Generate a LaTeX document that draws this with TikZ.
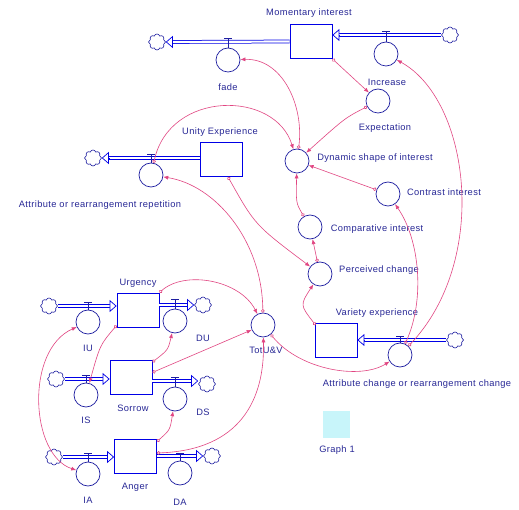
\documentclass[tikz,border=0pt]{standalone}
\usepackage{fontspec}
\setmainfont{Liberation Sans}[LetterSpace=4]
\usetikzlibrary{arrows.meta,shapes.symbols,calc}
\definecolor{cblue}{RGB}{0,0,230}
\definecolor{cnavy}{RGB}{30,30,160}
\definecolor{ctext}{RGB}{40,40,150}
\definecolor{cpink}{RGB}{225,70,130}
\definecolor{cgraph}{RGB}{200,245,250}
\newcommand\flowpipe[2]{\draw[pipe] (#1) -- (#2); \draw[piptip] ($(#2)!7pt!(#1)$) -- (#2);}
\newcommand\valvemark[2]{\draw[valve] (#1.north) -- (#1.north |- 0,#2) ++(-4,0) -- ++(8,0);}
\begin{document}
\begin{tikzpicture}[x=1pt,y=-1pt,
  stock/.style={draw=cblue, line width=0.8pt, minimum width=42pt, minimum height=34pt, inner sep=0pt, fill=white},
  conv/.style={circle, draw=cnavy, line width=0.7pt, minimum size=24pt, inner sep=0pt, fill=white},
  cloudy/.style={cloud, cloud puffs=8, draw=cnavy, line width=0.6pt, minimum width=17pt, minimum height=16pt, inner sep=0pt, fill=white, aspect=1},
  lbl/.style={text=ctext, font=\fontsize{9.3}{11}\selectfont, inner sep=0pt},
  conn/.style={draw=cpink, line width=0.6pt, {Circle[open,length=3.5pt,width=3.5pt]}-{Latex[length=5pt,width=4pt]}},
  conn2/.style={draw=cpink, line width=0.6pt, {Latex[length=5pt,width=4pt]}-{Latex[length=5pt,width=4pt]}},
  pipe/.style={draw=cblue, double=white, double distance=2.2pt, line width=0.75pt, shorten >=6pt},
  piptip/.style={draw=cblue, line width=0.7pt, -{Triangle[fill=white,length=7pt,width=12pt]}},
  valve/.style={draw=cnavy, line width=0.7pt},
  graphpad/.style={fill=cgraph, minimum size=27pt, inner sep=0pt}
]
\useasboundingbox[fill=white] (0,0) rectangle (519,510);

% stocks
\node[stock] (MI) at (311,41.5) {};
\node[stock] (UE) at (221,159.5) {};
\node[stock] (VE) at (336,340.5) {};
\node[stock] (Urg) at (138,310) {};
\node[stock] (Sor) at (131,377.5) {};
\node[stock] (Ang) at (135.5,456) {};

% clouds
\node[cloudy] (MIo) at (157,42) {};
\node[cloudy] (MIi) at (450,35) {};
\node[cloudy] (UEc) at (93,158) {};
\node[cloudy] (VEc) at (455,340) {};
\node[cloudy] (Uin) at (49,306) {};
\node[cloudy] (Uout) at (203,305) {};
\node[cloudy] (Sin) at (56,379) {};
\node[cloudy] (Sout) at (207,384) {};
\node[cloudy] (Ain) at (54,457) {};
\node[cloudy] (Aout) at (212,456) {};

% pipes
\coordinate (a1) at (MI.west);        \coordinate (a2) at (MIo.east);
\coordinate (b1) at (MIi.west);       \coordinate (b2) at (MI.east |- MIi);
\coordinate (c1) at (UE.west |- UEc); \coordinate (c2) at (UEc.east);
\coordinate (d1) at (VEc.west);       \coordinate (d2) at (VE.east |- VEc);
\coordinate (e1) at (Uin.east);       \coordinate (e2) at (Urg.west |- Uin);
\coordinate (f1) at (Urg.east |- Uout); \coordinate (f2) at (Uout.west);
\coordinate (g1) at (Sin.east);       \coordinate (g2) at (Sor.west |- Sin);
\coordinate (h1) at (Sor.east |- 0,381); \coordinate (h2) at (Sout.west |- 0,381);
\coordinate (i1) at (Ain.east);       \coordinate (i2) at (Ang.west |- Ain);
\coordinate (j1) at (Ang.east |- Aout); \coordinate (j2) at (Aout.west);
\flowpipe{a1}{a2}
\flowpipe{b1}{b2}
\flowpipe{c1}{c2}
\flowpipe{d1}{d2}
\flowpipe{e1}{e2}
\flowpipe{f1}{f2}
\flowpipe{g1}{g2}
\flowpipe{h1}{h2}
\flowpipe{i1}{i2}
\flowpipe{j1}{j2}

% flow valves
\node[conv] (fade) at (228,60) {};
\node[conv] (Increase) at (386,54) {};
\node[conv] (Rep) at (151,175) {};
\node[conv] (AttrCh) at (400,355) {};
\node[conv] (IU) at (88,322) {};
\node[conv] (DU) at (175,321) {};
\node[conv] (IS) at (86,395) {};
\node[conv] (DS) at (175,399) {};
\node[conv] (IA) at (88,474) {};
\node[conv] (DA) at (180,473) {};
\valvemark{fade}{38}
\valvemark{Increase}{31}
\valvemark{Rep}{154}
\valvemark{AttrCh}{336}
\valvemark{IU}{302}
\valvemark{DU}{299}
\valvemark{IS}{375}
\valvemark{DS}{377}
\valvemark{IA}{453}
\valvemark{DA}{453}

% auxiliaries
\node[conv] (Exp) at (378,101) {};
\node[conv] (Dyn) at (297,161) {};
\node[conv] (Con) at (388,194) {};
\node[conv] (Comp) at (310,227) {};
\node[conv] (Perc) at (320,274) {};
\node[conv] (Tot) at (263,325) {};

% graph pad
\node[graphpad] (G) at (336,424) {};

% labels
\node[lbl] (lMI) at (309,13) {Momentary interest};
\node[lbl] (lfade) at (228,87) {fade};
\node[lbl] (lInc) at (387,82) {Increase};
\node[lbl] (lExp) at (385,128) {Expectation};
\node[lbl] (lUE) at (220,132) {Unity Experience};
\node[lbl] (lDyn) at (375,158) {Dynamic shape of interest};
\node[lbl] (lCon) at (444,192) {Contrast interest};
\node[lbl] (lComp) at (377,229) {Comparative interest};
\node[lbl] (lPerc) at (379,270) {Perceived change};
\node[lbl] (lVE) at (377,313) {Variety experience};
\node[lbl] (lAttr) at (417,384) {Attribute change or rearrangement change};
\node[lbl] (lRep) at (100,205) {Attribute or rearrangement repetition};
\node[lbl] (lUrg) at (138,283) {Urgency};
\node[lbl] (lIU) at (88,348) {IU};
\node[lbl] (lDU) at (203,338) {DU};
\node[lbl] (lTot) at (266,350) {TotU\&V};
\node[lbl] (lIS) at (86,420) {IS};
\node[lbl] (lSor) at (133,408) {Sorrow};
\node[lbl] (lDS) at (203,412) {DS};
\node[lbl] (lIA) at (88,500) {IA};
\node[lbl] (lAng) at (135,487) {Anger};
\node[lbl] (lDA) at (180,502) {DA};
\node[lbl] (lG) at (337,450) {Graph 1};

% connectors
\draw[conn] (MI.south east) -- (Exp);
\draw[conn] (Exp) .. controls (345,118) .. (Dyn);
\draw[conn] (Dyn) .. controls (304,105) and (282,58) .. (fade);
\draw[conn] (Rep) .. controls (170,90) and (275,90) .. (Dyn);
\draw[conn] (Con) -- (Dyn);
\draw[conn] (Comp) .. controls (296,203) .. (Dyn);
\draw[conn] (Perc) -- (Comp);
\draw[conn] ([xshift=7pt]UE.south) .. controls (255,225) .. (Perc);
\draw[conn] ([xshift=1pt,yshift=-2pt]VE.north west) .. controls (300,305) .. (Perc);
\draw[conn] (AttrCh) .. controls (425,300) and (420,240) .. (Con);
\draw[conn] (AttrCh) .. controls (490,260) and (470,100) .. (Increase);
\draw[conn] (Tot) .. controls (262,240) and (215,185) .. (Rep);
\draw[conn] (Tot) .. controls (300,370) and (360,380) .. (AttrCh);
\draw[conn] (Urg.north east) .. controls (185,270) and (240,280) .. (Tot);
\draw[conn] ([yshift=5pt]Sor.east) -- (Tot);
\draw[conn] ([yshift=-2pt]Sor.north east) .. controls (168,350) .. (DU);
\draw[conn] ([yshift=2pt]Urg.south west) .. controls (100,345) .. (IS);
\draw[conn] ([yshift=-3pt]Ang.north east) .. controls (170,430) .. (DS);
\draw[conn] ([yshift=3pt]Ang.east) .. controls (240,450) and (265,400) .. (Tot);
\draw[conn2] (IA) .. controls (30,455) and (25,350) .. (IU);
\end{tikzpicture}
\end{document}
